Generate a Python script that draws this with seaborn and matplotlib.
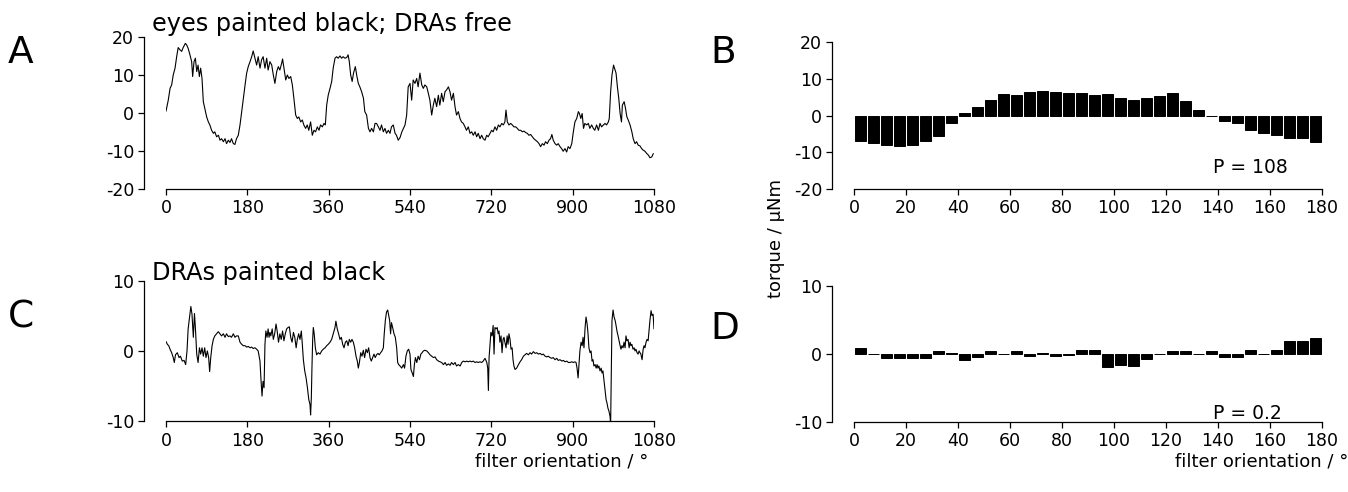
import numpy as np
import pandas as pd
import matplotlib
matplotlib.use("Agg")
import matplotlib.pyplot as plt
import seaborn as sns

# ---------------- data ----------------
trace_a_deg = [0, 5, 9, 12.5, 16, 20, 23.6, 27, 31, 34.7, 38, 42.8, 45.7, 49, 53, 56.8, 59, 62, 65, 68, 71, 73.8, 76.7, 79.7, 82.6, 86, 90, 93.7, 97, 101, 104.8, 108, 112, 116, 119.5, 123, 127, 130.6, 134, 138, 141.6, 145, 149, 152.6, 156, 160, 163.8, 167.5, 171, 175, 178.5, 182, 186, 189.6, 193, 197, 200.6, 204, 208, 211.6, 215, 219, 222.8, 226, 230, 234, 237.5, 241, 245, 248.6, 252, 256, 258, 261, 265, 268.5, 272, 276, 279.6, 283, 287, 290.6, 294, 298, 301.7, 305, 309, 312.6, 316, 320, 323.8, 327.5, 331, 335, 338.6, 342, 346, 349.6, 352.6, 355.6, 359, 363, 366.7, 370, 374, 377.6, 381, 385, 388.6, 392, 396, 400, 403, 405.7, 408.7, 412, 415, 419, 422, 425.6, 429, 433, 437, 440, 444, 448, 451.5, 455, 459, 462.6, 466, 470, 473.6, 477, 481, 484.6, 488, 492, 495.7, 499, 503, 507, 510, 514, 518, 522, 526, 529, 532.6, 536, 540, 543.7, 547, 551, 554.8, 558, 562, 566, 569.5, 573, 577, 580.6, 584, 588, 591.6, 595, 599, 602.7, 606, 610, 613.6, 617.5, 621, 625, 628.5, 632, 636, 639.6, 643, 647, 650.6, 654, 658, 661.7, 665, 669, 672.8, 676.5, 680, 684, 687.5, 691, 695, 698.6, 702, 706, 709.7, 713, 717, 720.7, 724, 728, 731.8, 735.5, 739, 743, 746.6, 750, 752.4, 755.4, 759, 762.8, 766.5, 770, 774, 777.5, 781, 785, 788.6, 792, 796, 799.7, 803, 807, 810.7, 814, 818, 822, 825.5, 829, 833, 836.6, 840, 844, 847.6, 851, 854, 857, 861, 864.6, 868, 872, 875.6, 879, 883, 886.7, 890, 894, 898, 901.5, 905, 909, 912.6, 915, 918, 921, 924, 927, 931, 934.7, 938, 942, 945.7, 949, 953, 957, 960.5, 964, 968, 971.6, 975, 979, 981, 984, 987, 990.5, 994, 996, 999, 1002, 1005, 1008, 1010, 1014, 1017, 1020, 1023, 1027, 1031, 1034, 1038, 1041.5, 1045, 1049, 1052.6, 1056, 1060, 1064, 1067.5, 1071, 1075, 1078.5]
trace_a_torque = [0.4, 3.3, 6.4, 7.3, 9.9, 11.7, 14.7, 17.1, 16.5, 16.1, 17.1, 18.2, 17.8, 16.9, 15.2, 13.4, 9.5, 13.4, 14.3, 10.8, 12.5, 9.5, 11.7, 9.0, 2.9, 1.1, -1.1, -2.4, -3.2, -4.6, -5.4, -5.0, -6.3, -5.9, -7.2, -6.8, -7.6, -6.8, -8.1, -7.2, -7.8, -6.8, -8.1, -8.3, -6.8, -5.9, -3.2, 0.3, 3.8, 7.3, 10.4, 12.1, 13.4, 14.7, 16.2, 14.3, 12.5, 14.7, 11.7, 13.9, 14.7, 11.7, 14.3, 11.2, 13.4, 12.5, 9.9, 7.7, 10.8, 12.1, 11.2, 13.0, 14.1, 11.7, 8.6, 9.9, 9.0, 9.5, 7.3, 3.8, -0.6, -1.5, -1.1, -2.4, -1.9, -3.2, -4.1, -3.2, -4.6, -2.4, -5.9, -4.6, -5.0, -3.7, -4.6, -3.2, -3.7, -2.8, -3.2, 2.0, 4.6, 6.4, 8.2, 11.7, 14.3, 14.7, 14.3, 14.9, 14.3, 14.7, 14.3, 14.5, 15.2, 13.4, 9.9, 8.2, 10.4, 12.1, 9.9, 7.7, 6.8, 5.5, 3.8, 0.3, -0.6, -4.1, -5.0, -4.1, -5.0, -2.8, -2.8, -3.7, -4.6, -3.2, -5.0, -4.1, -5.4, -4.6, -5.4, -3.7, -3.2, -5.4, -5.9, -7.2, -6.5, -5.0, -4.0, -3.2, -0.6, 6.8, 7.7, 3.3, 8.6, 7.7, 9.0, 6.8, 10.4, 7.3, 6.4, 7.3, 6.8, 5.1, 3.3, -0.6, 2.0, 3.8, 1.6, 4.6, 2.0, 5.1, 2.9, 5.5, 6.0, 6.8, 5.5, 3.3, 5.1, 1.6, -0.6, 0.3, -1.5, -2.4, -2.8, -3.7, -4.6, -3.7, -5.4, -5.0, -5.9, -5.0, -6.3, -5.4, -6.8, -5.9, -6.8, -7.2, -5.9, -6.3, -5.4, -4.6, -5.0, -3.7, -4.6, -3.2, -3.7, -2.8, -3.2, -2.4, 0.7, -2.4, -3.2, -2.8, -3.2, -3.7, -3.7, -4.1, -4.6, -4.6, -5.0, -4.8, -5.2, -5.4, -5.9, -5.7, -6.3, -6.8, -7.2, -7.6, -8.1, -8.9, -8.1, -8.5, -7.6, -8.1, -7.2, -6.8, -5.7, -7.2, -8.1, -8.5, -8.1, -8.9, -9.4, -10.1, -9.4, -10.3, -8.9, -9.4, -8.1, -5.0, -2.4, -1.5, 0.3, -0.2, -1.5, -0.2, -4.1, -2.8, -3.2, -2.8, -4.1, -3.2, -4.1, -4.6, -3.2, -4.6, -2.8, -3.7, -3.2, -2.8, -3.2, -2.4, -1.5, 5.5, 9.9, 12.5, 11.2, 10.4, 6.8, 3.8, -0.2, -2.4, 2.0, 2.9, 1.1, -1.1, -1.9, -3.2, -5.0, -6.8, -8.1, -7.6, -8.5, -8.7, -9.4, -9.8, -10.1, -10.7, -11.1, -11.8, -11.6, -10.7]

trace_c_deg = [0, 3, 6, 9, 12.5, 16, 18.4, 21, 25, 29, 32, 36, 40, 43.5, 46.5, 49, 53, 55, 57.5, 60.5, 63, 65, 68, 71, 74, 76.7, 79.7, 82.6, 85.6, 88.5, 91.5, 94.4, 96.6, 99, 102, 104.8, 108, 112, 115.8, 119.5, 123, 127, 130.6, 134, 138, 141.6, 145, 149, 152.7, 156, 160, 163.8, 167.5, 171, 175, 178.5, 182, 186, 189.6, 193, 197, 200.6, 204, 208, 210, 212.5, 214.7, 217, 219, 221, 223.6, 226, 228, 230, 232, 235, 237.5, 240.5, 243.5, 246, 249, 252, 255, 258, 261, 264, 267, 270, 273, 276, 279, 282, 285, 288, 290.6, 293.6, 296.5, 299.5, 301.7, 304, 307, 310, 313, 316, 318.7, 320, 321.6, 323, 324.6, 326, 328, 330.5, 333.4, 337, 340.8, 344.5, 348, 352, 355.6, 359, 363, 366.6, 370, 374, 376, 379, 382, 385, 388, 391, 394, 397, 400, 403, 405.7, 408.7, 411.6, 414.6, 417.5, 420.5, 423.4, 425.6, 428, 431, 433.8, 436.7, 439.6, 442.6, 445.6, 448.5, 451.5, 454.4, 457.4, 460.3, 463, 466, 469, 472, 475, 478, 481, 483, 485.4, 488, 490.6, 493, 495, 497, 499, 501.6, 504.6, 507.5, 510.5, 512.7, 514.9, 518, 521.7, 525.4, 528, 531, 534, 537, 540, 542, 545, 547.5, 549.7, 552, 555, 558, 561, 564, 566.7, 569.6, 573, 577, 580.7, 584.4, 588, 592, 595.5, 599, 603, 606.5, 610, 614, 617.6, 621, 625, 628.7, 632, 636, 639.7, 643, 647, 651, 654.5, 658, 662, 665.5, 669, 673, 676.6, 680, 684, 687.7, 691, 695, 698.7, 702, 706, 710, 712, 713.5, 715, 717, 719, 721.6, 724, 726, 728, 730.5, 733, 735, 737, 739, 741.5, 743.7, 746, 748, 750, 752.6, 755, 757, 759, 761.4, 763.6, 766, 768, 770, 772.5, 776, 780, 783.6, 787, 791, 794.6, 798, 802, 805.7, 809, 813, 816.8, 820.5, 824, 828, 831.5, 835, 839, 842.6, 846, 850, 853.6, 857, 861, 864.7, 868, 872, 876, 879.5, 883, 887, 890.5, 894, 898, 901.6, 905, 907.5, 909.7, 912, 914, 916, 918.6, 921, 923, 925, 927.5, 929.6, 932, 934, 936, 938.5, 940.7, 943, 945, 947, 949.6, 952, 954, 956, 958, 960.6, 963, 965, 967, 969.5, 971.7, 974, 976, 978, 980.5, 982.7, 984, 985.7, 987, 989.4, 991.6, 994, 996, 998, 1000.5, 1002.7, 1005, 1007, 1009, 1011.5, 1013.7, 1016, 1018, 1020, 1022.6, 1025, 1027, 1029, 1031, 1033.6, 1036, 1038, 1040, 1042.5, 1044.7, 1047, 1049, 1051, 1053.6, 1056, 1058, 1060, 1062.4, 1064.6, 1067, 1069, 1071, 1073.5, 1075.7, 1078, 1080]
trace_c_torque = [1.4, 1.0, 0.8, 0.3, -0.2, -0.9, -1.6, -0.5, -0.2, -0.9, -0.7, -1.4, -1.3, -1.9, 0.05, 3.2, 5.3, 6.4, 5.3, 2.0, 5.4, 3.4, -0.4, -1.6, 0.5, -0.4, 0.5, -0.7, 0.5, -0.9, 0.05, -0.9, -2.9, -0.9, 0.8, 1.7, 2.2, 2.5, 2.8, 2.5, 2.2, 2.5, 2.0, 2.5, 2.1, 2.2, 2.0, 2.5, 2.0, 2.2, 2.2, 1.3, 1.0, 0.8, 0.8, 0.6, 0.7, 0.5, 0.6, 0.4, 0.5, 0.3, 0.05, -1.4, -3.8, -6.4, -4.3, -5.2, 1.0, 2.9, 2.0, 3.2, 2.0, 2.7, 2.2, 3.2, 1.7, 2.5, 3.9, 2.9, 1.3, 2.5, 1.7, 2.9, 1.5, 2.5, 3.2, 3.4, 3.5, 2.0, 1.3, 2.7, 2.0, 0.5, 1.7, 2.5, 1.7, 2.9, 1.0, -1.2, -2.8, -3.8, -5.2, -6.9, -7.6, -9.1, -6.7, -2.4, 1.7, 3.4, 2.5, 0.5, -0.5, -0.2, -0.4, 0.05, 0.3, 0.5, 0.8, 1.0, 1.3, 1.7, 2.5, 3.4, 4.3, 3.2, 2.5, 1.7, 2.0, 1.0, 0.5, 1.3, 1.5, 0.8, 1.7, 1.3, 1.7, 1.3, 0.5, -0.7, -1.4, -2.4, -1.6, -0.2, -0.7, 0.15, -0.9, 0.3, -0.2, 0.5, -0.9, -1.4, -0.9, -0.4, -0.9, -0.5, -0.3, -0.5, -0.2, 0.05, 0.5, 2.5, 4.4, 5.6, 5.9, 5.1, 4.4, 2.5, 4.1, 3.4, 2.5, 2.0, 0.5, -1.6, -1.9, -2.1, -2.4, -1.9, -2.4, -0.7, 0.05, 0.3, -0.4, -2.6, -3.1, -3.6, -1.9, -0.9, -1.6, -0.7, -1.2, -0.4, -0.2, 0.05, 0.15, 0.05, -0.2, -0.5, -0.7, -0.9, -0.8, -1.2, -1.4, -1.5, -1.6, -1.9, -1.6, -2.0, -1.8, -2.0, -1.6, -1.9, -1.6, -2.1, -1.9, -2.1, -1.6, -1.4, -1.5, -1.4, -1.5, -1.4, -1.5, -1.4, -1.6, -1.5, -1.6, -1.5, -1.6, -1.4, -1.0, -1.6, -2.4, -5.6, -0.9, 1.0, 2.7, 2.2, 3.7, -0.4, 3.4, 3.2, 3.4, 2.5, 2.9, 1.3, 2.2, -0.2, 1.7, 2.0, 1.3, 0.5, 2.2, 1.0, 2.5, 1.7, 0.3, 0.5, -1.2, -2.1, -2.6, -2.4, -1.9, -1.5, -1.2, -0.7, -0.5, -0.3, -0.5, -0.2, -0.4, -0.05, -0.3, -0.2, -0.4, -0.3, -0.5, -0.4, -0.7, -0.8, -0.7, -0.9, -1.0, -0.9, -1.2, -1.0, -1.3, -1.2, -1.4, -1.3, -1.5, -1.4, -1.6, -1.6, -1.5, -1.6, -1.5, -1.6, -2.4, -3.8, -1.9, 0.05, 1.3, 0.8, 2.0, 0.5, 3.4, 4.9, 3.9, 2.5, 0.5, -0.2, 0.05, -1.4, -1.2, -2.1, -1.9, -2.4, -1.9, -2.4, -2.1, -2.8, -2.4, -3.1, -2.8, -4.3, -5.7, -6.9, -7.4, -8.1, -8.6, -9.3, -10.5, -2.4, 4.4, 5.9, 4.9, 4.4, 3.7, 2.9, 2.2, 1.5, 0.8, 0.3, 0.8, 0.5, 1.3, 0.5, 2.2, 1.5, 1.7, 0.5, 1.3, 0.8, 1.0, 0.3, 0.5, 0.05, 0.3, -0.2, -0.4, 0.05, -0.2, -0.4, -1.2, 0.3, 0.8, 0.5, 1.3, 1.7, 1.5, 2.9, 4.4, 5.8, 5.1, 5.3, 3.2]

bin_centres = [2.5, 7.5, 12.5, 17.5, 22.5, 27.5, 32.5, 37.5, 42.5, 47.5, 52.5, 57.5,
               62.5, 67.5, 72.5, 77.5, 82.5, 87.5, 92.5, 97.5, 102.5, 107.5, 112.5, 117.5,
               122.5, 127.5, 132.5, 137.5, 142.5, 147.5, 152.5, 157.5, 162.5, 167.5, 172.5, 177.5]
bars_b = [-7.0, -7.5, -8.0, -8.2, -8.1, -7.0, -5.5, -1.9, 0.6, 2.3, 4.2, 5.8,
          5.7, 6.4, 6.7, 6.5, 6.1, 6.1, 5.6, 5.8, 4.7, 4.3, 4.9, 5.4,
          6.1, 4.1, 1.5, 0.0, -1.5, -2.1, -3.9, -4.6, -5.3, -6.2, -6.2, -7.2]
bars_d = [0.8, 0.0, -0.7, -0.7, -0.7, -0.7, 0.4, 0.05, -0.9, -0.5, 0.4, 0.0,
          0.4, -0.3, 0.05, -0.3, -0.2, 0.6, 0.5, -1.9, -1.7, -1.8, -0.8, -0.1,
          0.4, 0.4, 0.0, 0.4, -0.5, -0.5, 0.6, 0.0, 0.5, 1.9, 1.9, 2.3]

trace_xticks = [0, 180, 360, 540, 720, 900, 1080]
bar_xticks = [0, 20, 40, 60, 80, 100, 120, 140, 160, 180]
yticks_top = [-20, -10, 0, 10, 20]
yticks_bottom = [-10, 0, 10]

title_a = "eyes painted black; DRAs free"
title_c = "DRAs painted black"
ylabel = "torque / µNm"
xlabel = "filter orientation / °"
p_b = "P = 108"
p_d = "P = 0.2"

# ---------------- style ----------------
sns.set_style("ticks")
plt.rcParams["font.family"] = ["DejaVu Sans"]
plt.rcParams["axes.unicode_minus"] = False
plt.rcParams["text.color"] = "black"
plt.rcParams["axes.labelcolor"] = "black"

W, H = 1348, 492
fig = plt.figure(figsize=(W / 100, H / 100), dpi=100)


def box(x0, x1, ytop, ybot):
    return [x0 / W, 1 - ybot / H, (x1 - x0) / W, (ybot - ytop) / H]


def style(ax, xt, yt, xl, yl):
    ax.set_xlim(*xl)
    ax.set_ylim(*yl)
    ax.set_xticks(xt)
    ax.set_yticks(yt)
    ax.set_xticklabels([str(v) for v in xt])
    ax.set_yticklabels([str(v) for v in yt])
    sns.despine(ax=ax)
    ax.spines["left"].set_position(("outward", 15.5))
    for s in ("left", "bottom"):
        ax.spines[s].set_linewidth(0.9)
        ax.spines[s].set_color("black")
    ax.tick_params(axis="both", direction="out", length=4.5, width=0.9,
                   color="black", labelsize=12.5, labelcolor="black")
    ax.tick_params(axis="y", pad=3)
    ax.tick_params(axis="x", pad=3)
    ax.set_xlabel("")
    ax.set_ylabel("")


axA = fig.add_axes(box(166, 654, 36.5, 189))
axB = fig.add_axes(box(854, 1322, 42.3, 189))
axC = fig.add_axes(box(166, 654, 281.3, 421.3))
axD = fig.add_axes(box(854, 1322, 285.7, 421.7))

dfa = pd.DataFrame({"deg": trace_a_deg, "torque": trace_a_torque})
dfc = pd.DataFrame({"deg": trace_c_deg, "torque": trace_c_torque})
sns.lineplot(data=dfa, x="deg", y="torque", ax=axA, color="black", lw=0.8,
             estimator=None, sort=False)
sns.lineplot(data=dfc, x="deg", y="torque", ax=axC, color="black", lw=0.8,
             estimator=None, sort=False)

dfb = pd.DataFrame({"deg": bin_centres, "torque": bars_b})
dfd = pd.DataFrame({"deg": bin_centres, "torque": bars_d})
for ax, df in ((axB, dfb), (axD, dfd)):
    sns.barplot(data=df, x="deg", y="torque", ax=ax, native_scale=True,
                width=0.86, color="black", saturation=1, errorbar=None,
                edgecolor="black", linewidth=0.7)

style(axA, trace_xticks, yticks_top, (0, 1080), (-20, 20))
style(axC, trace_xticks, yticks_bottom, (0, 1080), (-10, 10))
style(axB, bar_xticks, yticks_top, (0, 180), (-20, 20))
style(axD, bar_xticks, yticks_bottom, (0, 180), (-10, 10))


def ftext(x, y, s, **kw):
    fig.text(x / W, 1 - y / H, s, color="black", **kw)


ftext(152, 31, title_a, fontsize=17.3, ha="left", va="baseline")
ftext(152, 280, title_c, fontsize=17.3, ha="left", va="baseline")
ftext(1213, 172.7, p_b, fontsize=13.5, ha="left", va="baseline")
ftext(1213, 419.3, p_d, fontsize=13.5, ha="left", va="baseline")
ftext(8, 63, "A", fontsize=27, ha="left", va="baseline")
ftext(710, 63, "B", fontsize=27, ha="left", va="baseline")
ftext(8, 328, "C", fontsize=27, ha="left", va="baseline")
ftext(710, 339, "D", fontsize=27, ha="left", va="baseline")
ftext(776, 238, ylabel, fontsize=13, ha="center", va="center", rotation=90)
ftext(562, 462, xlabel, fontsize=13, ha="center", va="center")
ftext(1262, 462, xlabel, fontsize=13, ha="center", va="center")

fig.savefig("out.png", dpi=100, facecolor="white")
